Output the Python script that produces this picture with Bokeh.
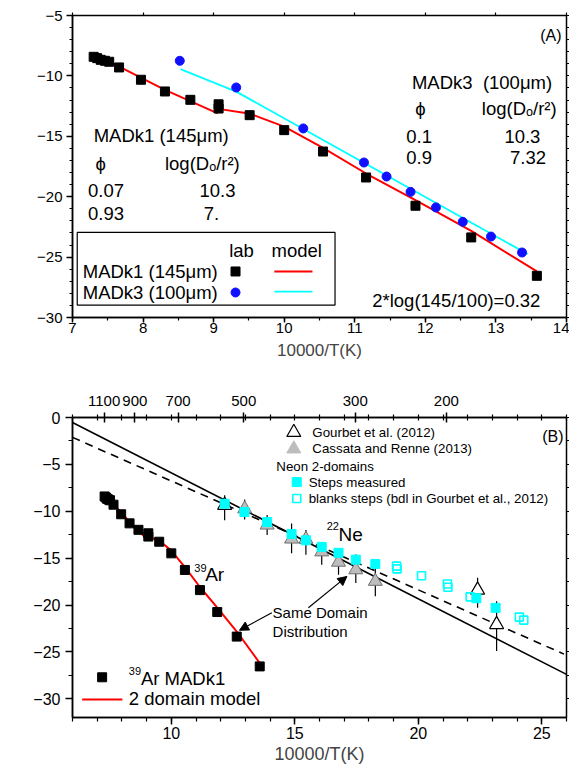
import math
from bokeh.plotting import figure
from bokeh.models import (LinearAxis, Range1d, FixedTicker, SingleIntervalTicker,
                          CustomJSTickFormatter, Label, Arrow, NormalHead, BoxAnnotation)
from bokeh.layouts import column
from bokeh.embed import file_html
from bokeh.resources import INLINE

FONT = "Liberation Sans"

# ---------------- Panel A data ----------------
madk1_x = [7.30, 7.35, 7.40, 7.46, 7.52, 7.66, 7.97, 8.31, 8.67, 9.07, 9.07, 9.51,
           10.00, 10.55, 11.16, 11.86, 12.65, 13.58]
madk1_y = [-8.42, -8.53, -8.67, -8.75, -8.83, -9.30, -10.32, -11.29, -11.98, -12.35, -12.70, -13.25,
           -14.49, -16.26, -18.41, -20.75, -23.37, -26.55]
model1_x = [7.30, 8.31, 9.05, 9.09, 9.45, 9.49, 9.53, 10.00, 10.55, 11.16, 11.86, 12.65, 13.58]
model1_y = [-8.15, -11.15, -13.08, -12.75, -13.08, -13.39, -13.17, -14.20, -15.95, -18.08, -20.28, -22.83, -26.19]
madk3_x = [8.52, 9.32, 10.27, 11.13, 11.45, 11.79, 12.15, 12.53, 12.93, 13.37]
madk3_y = [-8.75, -10.96, -14.35, -17.17, -18.33, -19.60, -20.89, -22.08, -23.30, -24.62]
model3_x = [8.53, 9.32, 13.45]
model3_y = [-9.44, -11.30, -24.75]

# ---------------- Panel B data ----------------
ne_step_x = [12.16, 12.96, 13.88, 14.87, 15.45, 16.09, 16.77, 17.47, 18.26, 22.35, 23.13]
ne_step_y = [-9.20, -10.08, -11.15, -12.42, -13.10, -13.80, -14.43, -15.16, -15.62, -19.28, -20.30]
ne_blank_x = [19.12, 19.14, 20.13, 21.18, 21.20, 22.10, 24.09, 24.27]
ne_blank_y = [-15.85, -16.15, -16.88, -17.76, -18.10, -19.13, -21.29, -21.61]
gourbet_x = [12.16, 22.40, 23.17]
gourbet_y = [-9.36, -18.40, -22.08]
gourbet_lo = [-10.95, -20.30, -24.90]
gourbet_hi = [-8.30, -17.10, -19.60]
cassata_x = [12.97, 13.88, 14.87, 15.45, 16.09, 16.77, 17.47, 18.26]
cassata_y = [-9.74, -11.47, -12.96, -12.99, -14.33, -15.43, -16.24, -17.47]
cassata_lo = [-10.87, -12.53, -14.47, -14.65, -15.71, -16.77, -17.65, -19.07]
cassata_hi = [-8.75, -10.40, -11.30, -12.00, -13.40, -14.30, -14.60, -15.70]
fit_solid_x = [6.0, 26.0]
fit_solid_y = [-0.53, -27.40]
fit_dash_x = [6.0, 25.9]
fit_dash_y = [-2.12, -25.24]
temp_ticks_C = [1100, 900, 700, 500, 300, 200]

RED = "#ff0000"
CYAN = "#00ffff"
BLUE = "#1010ff"
GRAY = "#bdbdbd"
TXT_A = 18.5
TXT_LEG = 13.3


def lab(p, x, y, text, size, align="left", baseline="middle", angle=0.0):
    p.add_layout(Label(x=x, y=y, text=text, text_font=FONT, text_font_size=f"{size}px",
                       text_align=align, text_baseline=baseline, angle=angle,
                       text_color="black"))


def style_axis(ax, size, tick_out, minor_out, standoff):
    ax.major_label_text_font = FONT
    ax.major_label_text_font_size = f"{size}px"
    ax.major_label_text_color = "black"
    ax.major_tick_out = tick_out
    ax.major_tick_in = 0
    ax.minor_tick_out = minor_out
    ax.minor_tick_in = 0
    ax.major_label_standoff = standoff
    ax.axis_line_width = 1.5
    ax.major_tick_line_width = 1.5
    ax.minor_tick_line_width = 1.2
    ax.axis_line_color = "black"
    ax.major_tick_line_color = "black"
    ax.minor_tick_line_color = "black"


def mirror_axis(p, side, ticker):
    ax = LinearAxis(ticker=ticker, formatter=CustomJSTickFormatter(code="return ''"),
                    major_tick_in=0, major_tick_out=3, minor_tick_in=0, minor_tick_out=0,
                    major_label_standoff=0, major_label_text_font_size="1px",
                    axis_line_color=None, major_tick_line_width=1.2)
    p.add_layout(ax, side)


# ================= Panel A =================
p1 = figure(width=569, height=372, x_range=Range1d(7, 14), y_range=Range1d(-30, -5),
            output_backend="svg", toolbar_location=None,
            min_border_left=72, min_border_right=3, min_border_top=15, min_border_bottom=55)
p1.grid.visible = False
p1.outline_line_color = "black"
p1.outline_line_width = 1.5
p1.xaxis.ticker = SingleIntervalTicker(interval=1, num_minor_ticks=2)
p1.yaxis.ticker = SingleIntervalTicker(interval=5, num_minor_ticks=5)
style_axis(p1.xaxis[0], 15, 5, 3, 0)
style_axis(p1.yaxis[0], 15, 6, 3, 4)
p1.xaxis.axis_label = "10000/T(K)"
p1.xaxis.axis_label_text_font = FONT
p1.xaxis.axis_label_text_font_size = "17px"
p1.xaxis.axis_label_text_font_style = "normal"
p1.xaxis.axis_label_standoff = 5
mirror_axis(p1, "above", SingleIntervalTicker(interval=1, num_minor_ticks=0))
mirror_axis(p1, "right", SingleIntervalTicker(interval=1, num_minor_ticks=0))

p1.line(model1_x, model1_y, line_color=RED, line_width=2)
p1.line(model3_x, model3_y, line_color=CYAN, line_width=1.8)
p1.scatter(madk1_x, madk1_y, marker="square", size=9, fill_color="black", line_color="black")
p1.scatter(madk3_x, madk3_y, marker="circle", size=9, fill_color=BLUE, line_color=BLUE)

# legend box (lab / model)
p1.add_layout(BoxAnnotation(left=7.067, right=10.72, top=-22.96, bottom=-28.97,
                            fill_color="white", fill_alpha=1.0, line_color="black",
                            line_width=1.2, line_alpha=1.0, level="underlay"))
lab(p1, 9.22, -24.48, "lab", TXT_A)
lab(p1, 9.82, -24.48, "model", TXT_A)
lab(p1, 7.145, -26.19, "MADk1 (145μm)", TXT_A)
lab(p1, 7.145, -27.93, "MADk3 (100μm)", TXT_A)
p1.scatter([9.31], [-26.19], marker="square", size=9, fill_color="black", line_color="black")
p1.scatter([9.31], [-27.93], marker="circle", size=9, fill_color=BLUE, line_color=BLUE)
p1.line([9.86, 10.40], [-26.19, -26.19], line_color=RED, line_width=2)
p1.line([9.86, 10.40], [-27.85, -27.85], line_color=CYAN, line_width=1.8)

lab(p1, 13.93, -6.66, "(A)", 16, align="right")
lab(p1, 11.81, -10.57, "MADk3\u00a0 (100μm)", TXT_A)
lab(p1, 11.93, -12.72, "ϕ", TXT_A, align="center")
lab(p1, 12.80, -12.72, "log(Dₒ/r²)", TXT_A)
lab(p1, 11.73, -15.02, "0.1", TXT_A)
lab(p1, 13.63, -15.02, "10.3", TXT_A, align="right")
lab(p1, 11.73, -16.76, "0.9", TXT_A)
lab(p1, 13.71, -16.76, "7.32", TXT_A, align="right")
lab(p1, 7.30, -14.96, "MADk1 (145μm)", TXT_A)
lab(p1, 7.40, -17.28, "ϕ", TXT_A, align="center")
lab(p1, 8.31, -17.28, "log(Dₒ/r²)", TXT_A)
lab(p1, 7.22, -19.45, "0.07", TXT_A)
lab(p1, 8.80, -19.45, "10.3", TXT_A)
lab(p1, 7.22, -21.36, "0.93", TXT_A)
lab(p1, 8.86, -21.36, "7.", TXT_A)
lab(p1, 13.63, -28.62, "2*log(145/100)=0.32", TXT_A, align="right")
lab(p1, 6.25, -18.5, "ln(D/r²)", 18, align="center", angle=math.pi / 2)

# ================= Panel B =================
p2 = figure(width=569, height=397, x_range=Range1d(6, 26), y_range=Range1d(-32, 0),
            output_backend="svg", toolbar_location=None,
            min_border_left=72, min_border_right=3, min_border_top=45, min_border_bottom=52)
p2.grid.visible = False
p2.outline_line_color = "black"
p2.outline_line_width = 1.5
p2.xaxis.ticker = SingleIntervalTicker(interval=5, num_minor_ticks=5)
p2.yaxis.ticker = SingleIntervalTicker(interval=5, num_minor_ticks=2)
style_axis(p2.xaxis[0], 16, 7, 4, 2)
style_axis(p2.yaxis[0], 16, 7, 4, 5)
p2.xaxis.axis_label = "10000/T(K)"
p2.xaxis.axis_label_text_font = FONT
p2.xaxis.axis_label_text_font_size = "18px"
p2.xaxis.axis_label_text_font_style = "normal"
p2.xaxis.axis_label_standoff = 2

top_pos = [10000.0 / (t + 273.15) for t in temp_ticks_C]
top_ax = LinearAxis(ticker=FixedTicker(ticks=top_pos, minor_ticks=list(range(6, 27))),
                    formatter=CustomJSTickFormatter(code="return Math.round(10000/tick - 273.15).toString()"))
style_axis(top_ax, 15, 5, 3, 7)
top_ax.major_tick_in = 5
top_ax.minor_tick_in = 3
p2.add_layout(top_ax, "above")
mirror_axis(p2, "right", SingleIntervalTicker(interval=2.5, num_minor_ticks=0))

p2.line(fit_solid_x, fit_solid_y, line_color="black", line_width=1.6)
p2.line(fit_dash_x, fit_dash_y, line_color="black", line_width=1.6, line_dash="8 6")
p2.line(model1_x, model1_y, line_color=RED, line_width=2)
p2.scatter(madk1_x, madk1_y, marker="square", size=9, fill_color="black", line_color="black")

p2.segment(gourbet_x, gourbet_lo, gourbet_x, gourbet_hi, line_color="black", line_width=1.2)
p2.segment(cassata_x, cassata_lo, cassata_x, cassata_hi, line_color="black", line_width=1.2)
p2.scatter(gourbet_x, gourbet_y, marker="triangle", size=14, fill_color="white", line_color="black", line_width=1.2)
p2.scatter(cassata_x, cassata_y, marker="triangle", size=14, fill_color=GRAY, line_color="#707070", line_width=1.0)
p2.scatter(ne_blank_x, ne_blank_y, marker="square", size=8, fill_color="white", fill_alpha=0.0,
           line_color=CYAN, line_width=1.6)
p2.scatter(ne_step_x, ne_step_y, marker="square", size=9, fill_color=CYAN, line_color=CYAN)

# legend top right
p2.scatter([14.96], [-1.59], marker="triangle", size=14, fill_color="white", line_color="black", line_width=1.2)
p2.scatter([14.96], [-3.35], marker="triangle", size=14, fill_color=GRAY, line_color=GRAY)
p2.scatter([15.08], [-6.89], marker="square", size=9, fill_color=CYAN, line_color=CYAN)
p2.scatter([15.08], [-8.64], marker="square", size=8, fill_color="white", line_color=CYAN, line_width=1.6)
lab(p2, 15.71, -1.59, "Gourbet et al. (2012)", TXT_LEG)
lab(p2, 15.71, -3.35, "Cassata and Renne (2013)", TXT_LEG)
lab(p2, 14.25, -5.22, "Neon 2-domains", TXT_LEG)
lab(p2, 15.56, -6.89, "Steps measured", TXT_LEG)
lab(p2, 15.56, -8.64, "blanks steps (bdl in Gourbet et al., 2012)", TXT_LEG)
lab(p2, 25.88, -2.02, "(B)", 16, align="right")
lab(p2, 15.30, 1.85, "T(°C)", 18, align="center")

# legend bottom left
p2.scatter([7.20], [-27.71], marker="square", size=9, fill_color="black", line_color="black")
p2.line([6.39, 8.02], [-30.08, -30.08], line_color=RED, line_width=2)
lab(p2, 8.28, -27.01, "39", 11)
lab(p2, 8.77, -27.85, "Ar MADk1", 18.5)
lab(p2, 8.28, -30.01, "2 domain model", 18.5)

lab(p2, 16.29, -11.56, "22", 11)
lab(p2, 16.77, -12.50, "Ne", 19)
lab(p2, 10.93, -16.03, "39", 11)
lab(p2, 11.37, -16.77, "Ar", 19)
lab(p2, 14.10, -20.79, "Same Domain", 15)
lab(p2, 14.10, -22.81, "Distribution", 15)
p2.add_layout(Arrow(end=NormalHead(size=9, fill_color="black", line_color="black"),
                    x_start=15.55, y_start=-20.30, x_end=17.11, y_end=-16.95,
                    line_color="black", line_width=1.2))
p2.add_layout(Arrow(end=NormalHead(size=9, fill_color="black", line_color="black"),
                    x_start=14.07, y_start=-20.83, x_end=12.76, y_end=-22.70,
                    line_color="black", line_width=1.2))
lab(p2, 3.75, -12.85, "ln(D/a²)\u00a0 s⁻¹", 18, align="center", angle=math.pi / 2)

layout = column(p1, p2)
open("out.html", "w").write(file_html(layout, INLINE))
